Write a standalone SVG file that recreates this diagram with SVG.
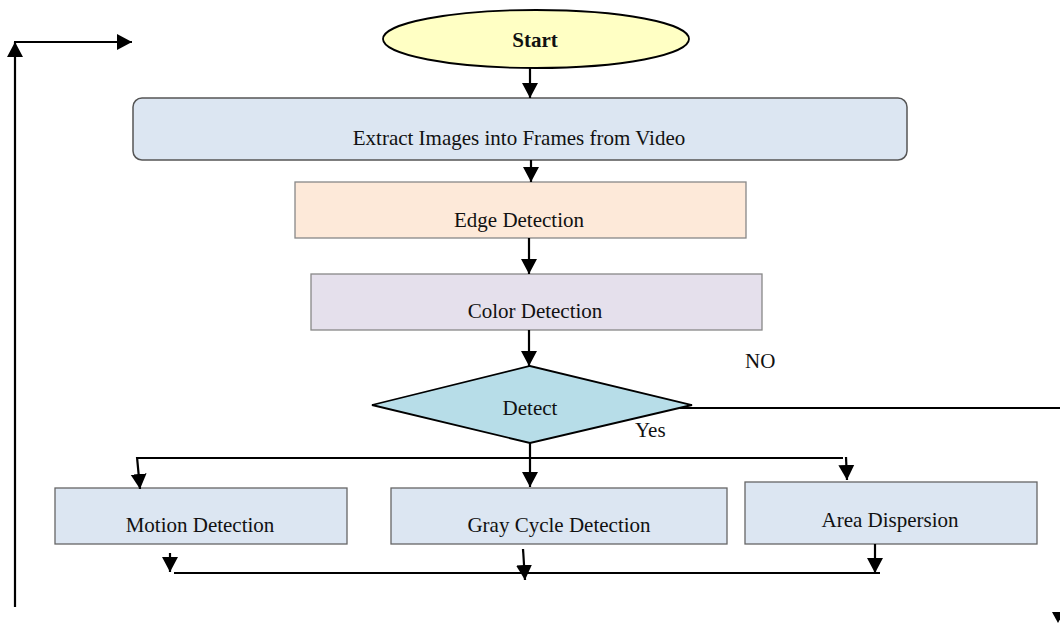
<svg xmlns="http://www.w3.org/2000/svg" width="1060" height="623" viewBox="0 0 1060 623">
<style>
  .t { font-family: "Liberation Serif", "Times New Roman", serif; font-size: 21px; fill: #111; }
  .c { text-anchor: middle; }
  .ln { fill: none; stroke: #000; stroke-width: 2.2; }
  .box { fill: #DCE6F2; stroke: #666; stroke-width: 1.3; }
</style>
<defs>
  <marker id="ah" markerUnits="userSpaceOnUse" markerWidth="18" markerHeight="18" viewBox="0 0 18 18" refX="15" refY="9" orient="auto">
    <path d="M0,1 L15,9 L0,17 Z" fill="#000"/>
  </marker>
</defs>
<rect width="1060" height="623" fill="#fff"/>

<g id="start">
  <ellipse cx="536" cy="39" rx="153" ry="29" fill="#FFFFC4" stroke="#000" stroke-width="1.8"/>
  <text class="t c" x="535" y="47" font-weight="bold" font-size="20">Start</text>
</g>
<g id="extract">
  <rect x="133" y="98" width="774" height="62" rx="9" fill="#DCE6F2" stroke="#555" stroke-width="1.5"/>
  <text class="t c" x="519" y="145">Extract Images into Frames from Video</text>
</g>
<g id="edge">
  <rect x="295" y="182" width="451" height="56" fill="#FDE9D9" stroke="#888" stroke-width="1.3"/>
  <text class="t c" x="519" y="227">Edge Detection</text>
</g>
<g id="color">
  <rect x="311" y="274" width="451" height="56" fill="#E5E0EC" stroke="#888" stroke-width="1.3"/>
  <text class="t c" x="535" y="318">Color Detection</text>
</g>
<g id="detect">
  <polygon points="372,405 530,366 692,405 530,443" fill="#B7DDE8" stroke="#000" stroke-width="1.8"/>
  <text class="t c" x="530" y="415" font-size="20">Detect</text>
</g>
<g id="motion">
  <rect class="box" x="55" y="488" width="292" height="56"/>
  <text class="t c" x="200" y="532">Motion Detection</text>
</g>
<g id="gray">
  <rect class="box" x="391" y="488" width="336" height="56"/>
  <text class="t c" x="559" y="532">Gray Cycle Detection</text>
</g>
<g id="area">
  <rect class="box" x="745" y="482" width="292" height="62"/>
  <text class="t c" x="890" y="527">Area Dispersion</text>
</g>
<g id="labels">
  <text class="t" x="745" y="368">NO</text>
  <text class="t" x="635" y="437" font-size="20">Yes</text>
</g>

<g id="connectors">
  <path class="ln" d="M15,607 V42" marker-end="url(#ah)"/>
  <path class="ln" d="M14,42 H132" marker-end="url(#ah)"/>
  <path class="ln" d="M530,68 V98" marker-end="url(#ah)"/>
  <path class="ln" d="M531,160 V182" marker-end="url(#ah)"/>
  <path class="ln" d="M529,238 V274" marker-end="url(#ah)"/>
  <path class="ln" d="M529,330 V366" marker-end="url(#ah)"/>
  <path class="ln" d="M680,408 H1060"/>
  <path class="ln" d="M137,458 H843"/>
  <path class="ln" d="M137,457 L140,489" marker-end="url(#ah)"/>
  <path class="ln" d="M530,443 V487" marker-end="url(#ah)"/>
  <path class="ln" d="M846,457 L847,480" marker-end="url(#ah)"/>
  <path class="ln" d="M174,573 H880"/>
  <path class="ln" d="M170,553 V572" marker-end="url(#ah)"/>
  <path class="ln" d="M523,549 L525,580" marker-end="url(#ah)"/>
  <path class="ln" d="M875,544 V573" marker-end="url(#ah)"/>
  <polygon points="1052,612 1064,612 1058,623" fill="#000"/>
</g>
</svg>
